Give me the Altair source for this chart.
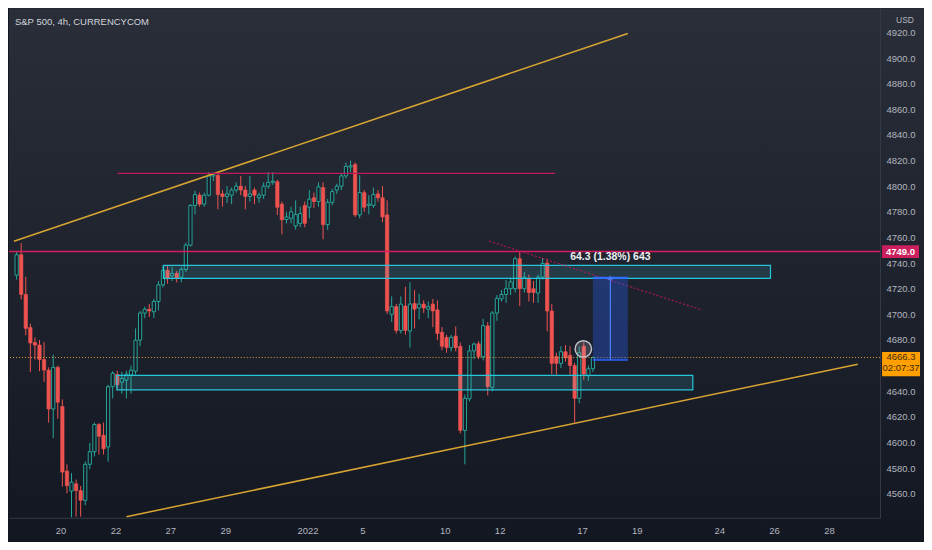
import altair as alt
import pandas as pd

W, H = 872, 510
AX_R, AX_B = 44, 24
FONT = "Liberation Sans"

# ---- OHLC (4h bars) ----
opens = [4730.6, 4746.5, 4715.5, 4689.7, 4678.0, 4676.0, 4664.7, 4656.4, 4626.1, 4658.6,
         4628.0, 4577.6, 4562.0, 4567.7, 4562.4, 4554.8, 4582.9, 4592.7, 4614.0, 4605.6,
         4596.5, 4643.5, 4653.0, 4647.0, 4648.6, 4652.6, 4655.6, 4679.8, 4701.0, 4704.0,
         4702.0, 4710.0, 4723.0, 4734.4, 4730.0, 4732.0, 4729.0, 4735.0, 4754.0, 4785.0,
         4793.0, 4786.0, 4793.0, 4808.0, 4808.5, 4794.0, 4792.0, 4793.0, 4797.0, 4800.0,
         4797.0, 4792.0, 4797.0, 4791.0, 4793.0, 4800.0, 4803.0, 4803.5, 4786.0, 4774.0,
         4775.0, 4769.0, 4771.0, 4785.0, 4783.6, 4791.0, 4788.0, 4799.0, 4770.0, 4787.4,
         4797.0, 4800.0, 4808.0, 4815.0, 4817.0, 4777.6, 4795.0, 4785.0, 4785.0, 4794.0,
         4791.0, 4777.6, 4700.0, 4706.0, 4687.4, 4706.5, 4687.0, 4708.6, 4705.0, 4708.0,
         4704.0, 4708.0, 4703.5, 4686.0, 4682.0, 4674.0, 4683.0, 4675.0, 4609.4, 4634.0,
         4671.5, 4677.0, 4667.0, 4691.0, 4643.0, 4701.0, 4712.0, 4715.5, 4720.0, 4720.0,
         4743.4, 4720.0, 4728.0, 4720.0, 4716.6, 4729.0, 4740.0, 4702.6, 4667.0, 4661.7,
         4670.8, 4668.0, 4660.0, 4634.4, 4675.0, 4652.0, 4657.5]
highs = [4749.0, 4755.6, 4729.3, 4692.7, 4682.0, 4680.0, 4678.3, 4658.6, 4668.5, 4660.0,
         4633.6, 4582.9, 4576.0, 4571.0, 4566.0, 4585.2, 4599.5, 4615.5, 4615.0, 4615.5,
         4645.0, 4655.6, 4656.0, 4655.0, 4656.0, 4660.0, 4689.0, 4702.6, 4706.0, 4708.0,
         4712.0, 4726.0, 4738.0, 4738.0, 4737.0, 4734.0, 4737.0, 4756.0, 4786.0, 4796.5,
         4795.0, 4795.0, 4811.0, 4810.5, 4811.0, 4797.0, 4800.0, 4799.0, 4803.0, 4808.0,
         4800.0, 4808.0, 4799.0, 4795.0, 4803.0, 4811.0, 4811.0, 4805.0, 4788.0, 4780.0,
         4784.0, 4789.0, 4784.0, 4788.0, 4797.0, 4795.0, 4803.0, 4803.0, 4790.0, 4798.0,
         4802.0, 4810.0, 4818.5, 4820.0, 4818.5, 4808.6, 4797.0, 4793.0, 4799.0, 4797.0,
         4800.0, 4789.0, 4714.0, 4708.0, 4714.0, 4721.5, 4725.0, 4719.0, 4716.0, 4711.0,
         4710.0, 4712.0, 4711.0, 4690.0, 4684.0, 4684.0, 4690.5, 4678.0, 4637.4, 4676.0,
         4678.0, 4679.0, 4696.5, 4694.0, 4702.6, 4715.0, 4719.0, 4726.8, 4728.0, 4745.0,
         4749.5, 4733.0, 4731.0, 4726.0, 4731.0, 4744.0, 4743.4, 4707.9, 4670.0, 4675.0,
         4676.0, 4675.0, 4662.0, 4675.0, 4678.0, 4660.0, 4667.0]
lows = [4727.0, 4711.7, 4683.6, 4654.8, 4664.7, 4655.6, 4647.3, 4615.5, 4603.3, 4618.5,
        4565.5, 4560.2, 4541.5, 4542.0, 4542.0, 4551.0, 4579.0, 4589.0, 4590.5, 4590.5,
        4585.0, 4634.4, 4642.0, 4638.0, 4634.4, 4638.0, 4653.0, 4675.0, 4697.0, 4698.0,
        4697.0, 4703.0, 4721.0, 4724.0, 4726.0, 4725.0, 4725.0, 4733.0, 4753.0, 4778.0,
        4784.0, 4784.0, 4792.0, 4804.0, 4782.0, 4784.0, 4787.0, 4786.0, 4795.0, 4793.0,
        4782.0, 4788.0, 4786.0, 4787.0, 4790.0, 4798.0, 4801.0, 4777.6, 4762.4, 4771.0,
        4771.0, 4766.0, 4768.0, 4768.0, 4775.0, 4783.0, 4784.0, 4758.6, 4766.0, 4785.0,
        4794.0, 4797.0, 4806.0, 4811.0, 4776.0, 4775.0, 4780.0, 4778.0, 4783.0, 4788.0,
        4772.0, 4700.3, 4694.0, 4685.0, 4685.0, 4684.0, 4674.0, 4689.0, 4696.0, 4701.0,
        4697.0, 4690.0, 4679.8, 4672.0, 4670.0, 4671.0, 4671.0, 4607.0, 4582.9, 4632.0,
        4665.0, 4665.0, 4664.0, 4636.7, 4640.0, 4695.0, 4710.0, 4709.0, 4715.0, 4717.0,
        4706.4, 4717.0, 4710.0, 4709.0, 4709.0, 4727.0, 4686.7, 4653.3, 4653.0, 4658.0,
        4663.0, 4653.0, 4615.5, 4630.5, 4648.8, 4648.0, 4655.0]
closes = [4746.5, 4715.5, 4689.0, 4677.6, 4676.0, 4664.7, 4656.4, 4626.1, 4658.6, 4631.4,
          4576.8, 4566.2, 4569.0, 4562.4, 4554.8, 4582.9, 4592.7, 4614.0, 4604.8, 4595.0,
          4643.5, 4654.0, 4645.0, 4650.0, 4653.3, 4656.4, 4679.8, 4701.0, 4704.0, 4702.6,
          4710.0, 4723.0, 4734.4, 4728.3, 4732.0, 4728.0, 4735.0, 4754.0, 4785.0, 4793.5,
          4786.0, 4793.0, 4808.0, 4809.0, 4793.5, 4792.0, 4794.0, 4797.0, 4800.0, 4797.0,
          4792.0, 4794.0, 4793.0, 4793.0, 4800.0, 4803.0, 4804.0, 4783.6, 4773.8, 4776.0,
          4780.0, 4778.0, 4778.6, 4771.0, 4790.0, 4788.0, 4799.5, 4770.0, 4787.4, 4795.8,
          4800.0, 4808.0, 4815.5, 4816.0, 4777.6, 4795.0, 4783.6, 4786.0, 4793.6, 4791.0,
          4776.0, 4702.6, 4706.0, 4687.4, 4708.0, 4687.4, 4708.0, 4704.0, 4708.0, 4705.0,
          4706.0, 4702.6, 4685.0, 4675.0, 4674.0, 4682.0, 4674.0, 4609.4, 4634.4, 4671.5,
          4676.8, 4667.0, 4691.2, 4643.5, 4701.0, 4712.4, 4715.5, 4720.0, 4725.3, 4743.4,
          4720.0, 4729.0, 4717.0, 4717.0, 4729.0, 4739.7, 4702.6, 4661.7, 4661.7, 4670.8,
          4666.0, 4660.0, 4634.4, 4670.0, 4653.3, 4657.5, 4666.3]

first_bar_day = -1.6      # position of first bar, in trading days from Dec 20
bars_per_day = 6

# ---- axis labels ----
day_idx = [0, 2, 4, 6, 9, 11, 14, 16, 19, 21, 24, 26, 28]
day_lab = ["20", "22", "27", "29", "2022", "5", "10", "12", "17", "19", "24", "26", "28"]
price_ticks = [4560, 4580, 4600, 4620, 4640, 4680, 4700, 4720, 4740, 4760,
               4780, 4800, 4820, 4840, 4860, 4880, 4900, 4920]
x_domain = [-1.696, 29.68]
y_domain = [4541.2, 4938.9]

# ---- drawings ----
channel_x = [-1.7, 20.67, 2.40, 29.05]          # upper start,end ; lower start,end
channel_y = [4757.0, 4919.2, 4542.0, 4661.0]
resist_x = [2.08, 18.02]
resist_price = 4810.0
level_price = 4749.0
last_price = 4666.3
countdown = "02:07:37"
zones_x1 = [3.75, 2.05]
zones_x2 = [25.87, 23.04]
zones_top = [4738.2, 4652.3]
zones_bot = [4728.1, 4641.0]
trend_x = [15.62, 23.39]
trend_y = [4757.1, 4703.3]
meas_x = [19.40, 20.67]
meas_y = [4664.3, 4728.6]
meas_label = "64.3 (1.38%) 643"
circle_x, circle_y = 19.05, 4673.0

candles = pd.DataFrame({
    "t": [first_bar_day + i / bars_per_day for i in range(len(opens))],
    "open": opens, "high": highs, "low": lows, "close": closes,
    "dir": ["up" if c >= o else "down" for o, c in zip(opens, closes)],
})
ups = candles[candles["dir"] == "up"]
downs = candles[candles["dir"] == "down"]

expr = "".join(f"datum.value == {k} ? '{s}' : " for k, s in zip(day_idx, day_lab)) + "''"
xs = alt.Scale(domain=x_domain, nice=False, zero=False)
ys = alt.Scale(domain=y_domain, nice=False, zero=False)
xax = alt.Axis(values=day_idx, labelExpr=expr, title=None, labelPadding=8, labelAngle=0,
               labelFlush=False, labelOverlap=False, zindex=2, ticks=False, grid=False,
               labelColor="#b2b5be", labelFont=FONT, labelFontSize=9.5,
               domainColor="#363a45")
yax = alt.Axis(orient="right", values=price_ticks, format=".1f", title=None, labelPadding=6,
               labelOverlap=False, labelFlush=False, zindex=2, ticks=False, grid=False,
               labelColor="#b2b5be", labelFont=FONT, labelFontSize=9.5,
               domainColor="#363a45")


def X(f):
    return alt.X(f, type="quantitative", scale=xs, axis=xax)


def Y(f):
    return alt.Y(f, type="quantitative", scale=ys, axis=yax)


one = pd.DataFrame({"a": [0]})

bg = alt.Chart(one).mark_rect(
    color=alt.Gradient(gradient="linear", x1=0, x2=0, y1=0, y2=1,
                       stops=[alt.GradientStop(color="#2a2e39", offset=0),
                              alt.GradientStop(color="#131722", offset=1)])
).encode(x=alt.value(0), x2=alt.value(W + AX_R), y=alt.value(0), y2=alt.value(H + AX_B))

wick_up = alt.Chart(ups).mark_rule(strokeWidth=1, color="#26a69a").encode(x=X("t"), y=Y("low"), y2="high")
wick_dn = alt.Chart(downs).mark_rule(strokeWidth=1, color="#ef5350").encode(x=X("t"), y=Y("low"), y2="high")
body_up = alt.Chart(ups).mark_bar(size=3.2, strokeWidth=1, fill="#161a25", stroke="#26a69a").encode(
    x=X("t"), y=Y("open"), y2="close")
body_dn = alt.Chart(downs).mark_bar(size=3.4, strokeWidth=0.6, fill="#ef5350", stroke="#ef5350").encode(
    x=X("t"), y=Y("open"), y2="close")

zones = pd.DataFrame({"x1": zones_x1, "x2": zones_x2, "top": zones_top, "bot": zones_bot})
zone_l = alt.Chart(zones).mark_rect(fill="#4dd0e1", fillOpacity=0.14, stroke="#26c6da",
                                   strokeWidth=1.2).encode(
    x=X("x1"), x2="x2", y=Y("top"), y2="bot")

chan = pd.DataFrame({"x1": channel_x[0::2], "x2": channel_x[1::2],
                     "y1": channel_y[0::2], "y2": channel_y[1::2]})
chan_l = alt.Chart(chan).mark_rule(color="#d9a532", strokeWidth=1.5).encode(
    x=X("x1"), x2="x2", y=Y("y1"), y2="y2")

res = pd.DataFrame({"x1": [resist_x[0]], "x2": [resist_x[1]], "p": [resist_price]})
res_l = alt.Chart(res).mark_rule(color="#c2185b", strokeWidth=1.3).encode(
    x=X("x1"), x2="x2", y=Y("p"))

lvl = pd.DataFrame({"p": [level_price]})
lvl_l = alt.Chart(lvl).mark_rule(color="#d81b60", strokeWidth=1.6).encode(y=Y("p"))

last = pd.DataFrame({"p": [last_price]})
last_l = alt.Chart(last).mark_rule(color="#e0a040", strokeWidth=1, strokeDash=[1, 2]).encode(y=Y("p"))

tr = pd.DataFrame({"x1": [trend_x[0]], "x2": [trend_x[1]], "y1": [trend_y[0]], "y2": [trend_y[1]]})
tr_l = alt.Chart(tr).mark_rule(color="#c2185b", strokeWidth=1.2, strokeDash=[2, 2], opacity=0.85).encode(
    x=X("x1"), x2="x2", y=Y("y1"), y2="y2")

meas = pd.DataFrame({"x1": [meas_x[0]], "x2": [meas_x[1]], "y1": [meas_y[0]], "y2": [meas_y[1]],
                     "xm": [(meas_x[0] + meas_x[1]) / 2], "lab": [meas_label]})
meas_r = alt.Chart(meas).mark_rect(fill="#2962ff", fillOpacity=0.32).encode(
    x=X("x1"), x2="x2", y=Y("y1"), y2="y2")
meas_top = alt.Chart(meas).mark_rule(color="#2f6bff", strokeWidth=2).encode(x=X("x1"), x2="x2", y=Y("y2"))
meas_bot = alt.Chart(meas).mark_rule(color="#2962ff", strokeWidth=1.5).encode(x=X("x1"), x2="x2", y=Y("y1"))
meas_mid = alt.Chart(meas).mark_rule(color="#4d7fff", strokeWidth=1.2).encode(x=X("xm"), y=Y("y1"), y2="y2")
meas_arrow = alt.Chart(meas).mark_point(shape="triangle-up", size=30, filled=True, color="#4d7fff").encode(
    x=X("xm"), y=Y("y2"))
meas_t = alt.Chart(meas).mark_text(color="#eef0f5", fontSize=10.5, fontWeight="bold", font=FONT,
                                   baseline="middle", dy=-21).encode(
    x=X("xm"), y=Y("y2"), text="lab:N")

circ = pd.DataFrame({"x": [circle_x], "y": [circle_y]})
circ_l = alt.Chart(circ).mark_point(shape="circle", size=270, fill="#d1d4dc", fillOpacity=0.18,
                                    stroke="#c3c6ce", strokeWidth=1.4, opacity=1).encode(
    x=X("x"), y=Y("y"))

# price boxes on the right scale
lvl_box = pd.DataFrame({"top": [level_price + 5.0], "bot": [level_price - 5.0],
                        "p": [level_price], "s": [f"{level_price:.1f}"]})
last_box = pd.DataFrame({"top": [last_price + 4.3], "bot": [last_price - 14.7],
                         "p": [last_price], "s": [f"{last_price:.1f}"], "cd": [countdown]})
lvl_box_l = alt.Chart(lvl_box).mark_rect(fill="#cc1f5e").encode(
    x=alt.value(W + 2), x2=alt.value(W + 39), y=Y("top"), y2="bot")
lvl_box_t = alt.Chart(lvl_box).mark_text(fontSize=9.5, font=FONT, fontWeight="bold", baseline="middle",
                                         align="center", color="#ffffff").encode(
    x=alt.value(W + 20.5), y=Y("p"), text="s:N")
last_box_l = alt.Chart(last_box).mark_rect(fill="#ff9f00").encode(
    x=alt.value(W + 2), x2=alt.value(W + 40), y=Y("top"), y2="bot")
last_box_t = alt.Chart(last_box).mark_text(fontSize=9.5, font=FONT, baseline="middle",
                                           align="center", color="#3d2c0c").encode(
    x=alt.value(W + 21), y=Y("p"), text="s:N")
last_box_c = alt.Chart(last_box).mark_text(fontSize=9.5, font=FONT, baseline="middle", dy=11,
                                           align="center", color="#3d2c0c").encode(
    x=alt.value(W + 21), y=Y("p"), text="cd:N")

head = alt.Chart(one).mark_text(align="left", baseline="middle", fontSize=9.5, font=FONT,
                                color="#d1d4dc").encode(
    x=alt.value(6), y=alt.value(14), text=alt.value("S&P 500, 4h, CURRENCYCOM"))
usd = alt.Chart(one).mark_text(align="left", baseline="middle", fontSize=8.5, font=FONT,
                               color="#b2b5be").encode(
    x=alt.value(W + 16), y=alt.value(12), text=alt.value("USD"))

chart = alt.layer(
    bg, wick_up, wick_dn, body_up, body_dn, zone_l, chan_l, res_l, lvl_l, last_l, tr_l,
    meas_r, meas_top, meas_bot, meas_mid, meas_arrow, meas_t, circ_l,
    lvl_box_l, last_box_l, lvl_box_t, last_box_t, last_box_c, head, usd
).properties(
    width=W, height=H, background="#131722", padding=0
).configure_view(stroke=None)

chart.save("out.html", embed_options={"renderer": "svg", "actions": False})
